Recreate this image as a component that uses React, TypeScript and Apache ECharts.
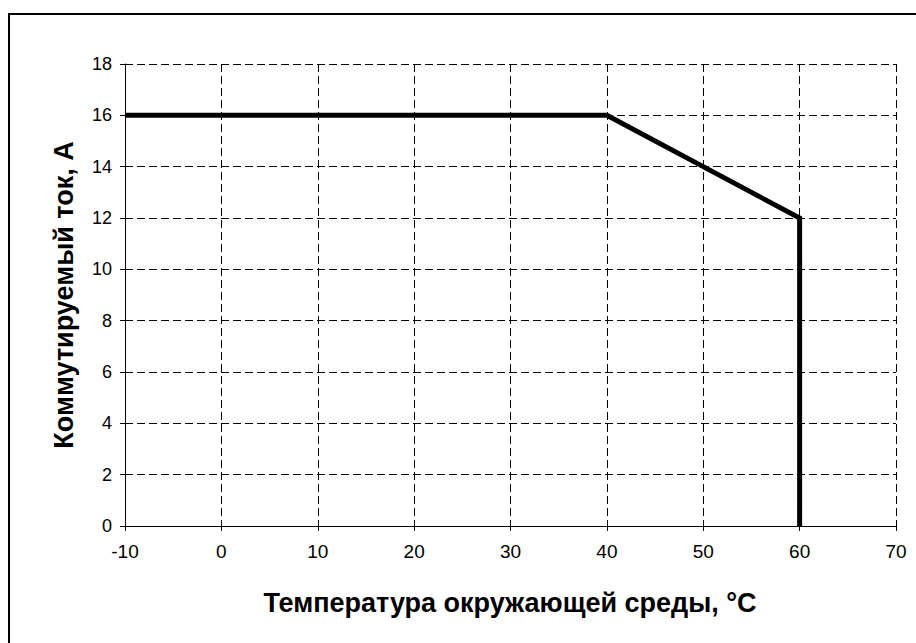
import React, { useEffect, useRef } from "react";
import * as echarts from "echarts";

const temperatures = [-10, 40, 50, 60, 60];
const currents = [16, 16, 14, 12, 0];
const xTicks = { min: -10, max: 70, step: 10 };
const yTicks = { min: 0, max: 18, step: 2 };
const xTitle = "Температура окружающей среды, °C";
const yTitle = "Коммутируемый ток, А";

export default function App() {
  const ref = useRef<HTMLDivElement>(null);
  useEffect(() => {
    if (!ref.current) return;
    const chart = echarts.init(ref.current, null, { renderer: "svg" });
    const font = "Arial, 'Liberation Sans', sans-serif";
    chart.setOption({
      animation: false,
      backgroundColor: "#fff",
      textStyle: { fontFamily: font },
      grid: { left: 125, right: 20, top: 64, bottom: 117 },
      graphic: [
        {
          type: "rect",
          shape: { x: 9, y: 14, width: 1000, height: 1000 },
          style: { fill: "none", stroke: "#000", lineWidth: 2 },
          silent: true,
        },
        {
          type: "text",
          x: 510,
          y: 603,
          style: {
            text: xTitle,
            fontSize: 27,
            fontWeight: "bold",
            fontFamily: font,
            fill: "#000",
            align: "center",
            verticalAlign: "middle",
          },
        },
        {
          type: "text",
          x: 64,
          y: 295,
          rotation: Math.PI / 2,
          style: {
            text: yTitle,
            fontSize: 27,
            fontWeight: "bold",
            fontFamily: font,
            fill: "#000",
            align: "center",
            verticalAlign: "middle",
          },
        },
      ],
      xAxis: {
        type: "value",
        min: xTicks.min,
        max: xTicks.max,
        interval: xTicks.step,
        axisLine: { show: true, onZero: false, lineStyle: { color: "#000", width: 1 } },
        axisTick: { show: true, length: 5, lineStyle: { color: "#000" } },
        axisLabel: { color: "#000", fontSize: 19, margin: 16, fontFamily: font },
        splitLine: {
          show: true,
          lineStyle: { color: "#000", type: [8, 4], width: 1 },
        },
      },
      yAxis: {
        type: "value",
        min: yTicks.min,
        max: yTicks.max,
        interval: yTicks.step,
        axisLine: { show: true, onZero: false, lineStyle: { color: "#000", width: 1 } },
        axisTick: { show: true, length: 5, lineStyle: { color: "#000" } },
        axisLabel: { color: "#000", fontSize: 18, margin: 13, fontFamily: font },
        splitLine: {
          show: true,
          lineStyle: { color: "#000", type: [8, 4], width: 1 },
        },
      },
      series: [
        {
          type: "line",
          data: temperatures.map((t, i) => [t, currents[i]]),
          showSymbol: false,
          symbol: "none",
          lineStyle: { color: "#000", width: 5, join: "miter" },
          z: 5,
        },
      ],
    });
    return () => chart.dispose();
  }, []);
  return (
    <div
      ref={ref}
      style={{ position: "absolute", left: 0, top: 0, width: 916, height: 643 }}
    />
  );
}
